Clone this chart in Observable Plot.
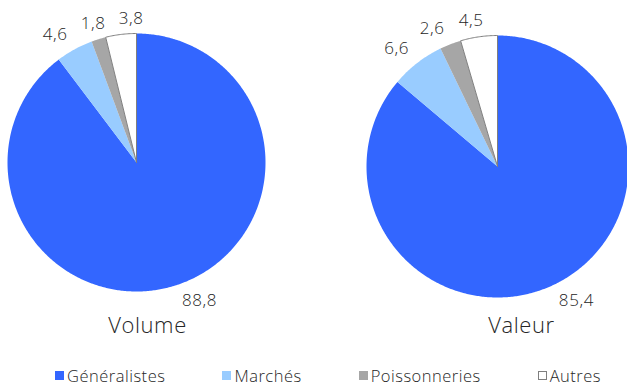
<!DOCTYPE html>
<html><head><meta charset="utf-8">
<script src="https://cdn.jsdelivr.net/npm/d3@7"></script>
<script src="https://cdn.jsdelivr.net/npm/@observablehq/plot@0.6"></script>
<style>
body{margin:0;background:#fff;font-family:"Open Sans",sans-serif;}
#chart svg{display:block;}
#legend{position:relative;height:34px;width:627px;font-size:16.5px;font-weight:300;letter-spacing:0.5px;color:#262626;}
#legend .item{position:absolute;top:9px;display:flex;align-items:center;white-space:nowrap;}
#legend .sw{width:9px;height:9px;display:inline-block;margin-right:3px;box-sizing:border-box;}
</style></head>
<body><div id="chart"></div><div id="legend"></div>
<script>
const categories = ["Généralistes", "Marchés", "Poissonneries", "Autres"];
const volume = [88.8, 4.6, 1.8, 3.8];
const valeur = [85.4, 6.6, 2.6, 4.5];
const pieTitles = ["Volume", "Valeur"];
const colors = ["#3366ff", "#99ccff", "#a6a6a6", "#ffffff"];

const W = 627, H = 355;
const pies = [
  {title: pieTitles[0], values: volume, cx: 136, cy: 162, r: 129, tx: 147, ty: 332},
  {title: pieTitles[1], values: valeur, cx: 497, cy: 166, r: 131, tx: 521, ty: 332}
];
const fmt = v => v.toFixed(1).replace(".", ",");
const clamp = v => Math.max(-1, Math.min(1, v));

const polys = [], labels = [], titles = [];
pies.forEach((p, pi) => {
  const arcs = d3.pie().sort(null).value(d => d)(p.values);
  const pieLabels = [];
  arcs.forEach((a, i) => {
    const key = pi + "-" + i;
    polys.push({key, cat: categories[i], color: colors[i], x: p.cx, y: p.cy});
    const n = Math.max(2, Math.ceil((a.endAngle - a.startAngle) / 0.01));
    for (let k = 0; k <= n; k++) {
      const t = a.startAngle + (a.endAngle - a.startAngle) * k / n;
      polys.push({key, cat: categories[i], color: colors[i], x: p.cx + p.r * Math.sin(t), y: p.cy - p.r * Math.cos(t)});
    }
    polys.push({key, cat: categories[i], color: colors[i], x: p.cx, y: p.cy});
    const m = (a.startAngle + a.endAngle) / 2;
    const dx = Math.sin(m), dy = -Math.cos(m);
    const R = p.r + 9;
    const txt = fmt(a.data);
    const w = txt.length * 10, h = 14;
    pieLabels.push({
      x: p.cx + R * dx + (w / 2) * clamp(dx * 3),
      y: p.cy + R * dy + (h / 2) * clamp(dy * 3),
      w, h, text: txt
    });
  });
  // simple collision avoidance: push overlapping labels apart horizontally
  const sorted = pieLabels.slice().sort((a, b) => a.x - b.x);
  for (let k = 1; k < sorted.length; k++) {
    const A = sorted[k - 1], B = sorted[k];
    if (Math.abs(A.y - B.y) < (A.h + B.h) / 2) {
      const minDist = (A.w + B.w) / 2 + 8;
      if (B.x - A.x < minDist) B.x = A.x + minDist;
    }
  }
  labels.push(...pieLabels);
  titles.push({x: p.tx, y: p.ty, text: p.title});
});

const chart = Plot.plot({
  width: W, height: H, margin: 0,
  x: {domain: [0, W], range: [0, W], axis: null},
  y: {domain: [0, H], range: [0, H], axis: null},
  style: {fontFamily: '"Open Sans", sans-serif', background: "#fff"},
  marks: [
    Plot.line(polys, {x: "x", y: "y", z: "key", fill: "color", stroke: "none", curve: "linear"}),
    Plot.line(polys.filter(d => d.cat === "Autres"), {x: "x", y: "y", z: "key", fill: "none", stroke: "#7f7f7f", strokeWidth: 1, curve: "linear"}),
    Plot.text(labels, {x: "x", y: "y", text: "text", fontSize: 17, fontWeight: 300, fill: "#262626", textAnchor: "middle", lineAnchor: "middle"}),
    Plot.text(titles, {x: "x", y: "y", text: "text", fontSize: 22, fontWeight: 300, fill: "#262626", textAnchor: "middle", lineAnchor: "bottom"})
  ]
});
chart.querySelectorAll("text").forEach(t => t.setAttribute("letter-spacing", "0.6"));
document.getElementById("chart").appendChild(chart);

// legend
const legend = d3.select("#legend");
const items = legend.selectAll(".item").data(categories).join("div").attr("class", "item");
items.append("span").attr("class", "sw")
  .style("background", (d, i) => colors[i])
  .style("border", (d, i) => colors[i] === "#ffffff" ? "1px solid #7f7f7f" : "none");
items.append("span").text(d => d);
let xpos = 55;
items.each(function() {
  this.style.left = xpos + "px";
  xpos += this.getBoundingClientRect().width + 57;
});
</script>
</body></html>
